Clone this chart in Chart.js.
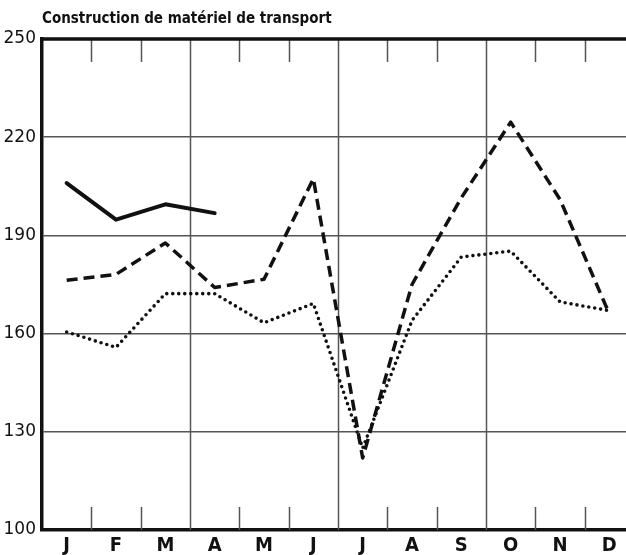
<!DOCTYPE html>
<html>
<head>
<meta charset="utf-8">
<script src="https://cdn.jsdelivr.net/npm/chart.js@4.4.1/dist/chart.umd.min.js"></script>
<style>
html,body{margin:0;padding:0;background:#fff;overflow:hidden;width:626px;height:555px;}
canvas{display:block;}
</style>
</head>
<body>
<canvas id="c" width="634" height="555"></canvas>
<script>
const titleText = "Construction de matériel de transport";
const months = ["J","F","M","A","M","J","J","A","S","O","N","D"];
const yTicks = [100,130,160,190,220,250];
const solidSeries  = [206.0, 194.8, 199.5, 196.8, null, null, null, null, null, null, null, null];
const dashedSeries = [176.3, 178.1, 187.7, 174.1, 176.6, 207.3, 122.0, 175.0, 201.5, 224.6, 201.0, 166.0];
const dottedSeries = [160.5, 155.8, 172.2, 172.2, 163.3, 169.2, 125.0, 164.0, 183.4, 185.2, 169.7, 167.0];
const fullGridAt = [3, 6, 9];

const ink = "#111";
const gridCol = "#555";

const frame = {
  id: "frame",
  beforeDatasetsDraw(chart) {
    const {ctx, chartArea: a, scales: {x}} = chart;
    ctx.save();
    ctx.strokeStyle = gridCol;
    ctx.lineWidth = 1.5;
    for (let i = 1; i < months.length; i++) {
      const px = Math.round((x.getPixelForValue(i - 1) + x.getPixelForValue(i)) / 2) + 0.5;
      ctx.beginPath();
      if (fullGridAt.includes(i)) {
        ctx.moveTo(px, a.top); ctx.lineTo(px, a.bottom);
      } else {
        ctx.moveTo(px, a.top); ctx.lineTo(px, a.top + 23);
        ctx.moveTo(px, a.bottom - 23); ctx.lineTo(px, a.bottom);
      }
      ctx.stroke();
    }
    ctx.strokeStyle = ink;
    ctx.lineWidth = 3.5;
    ctx.beginPath();
    ctx.moveTo(a.left - 2, a.top); ctx.lineTo(a.right, a.top);
    ctx.stroke();
    ctx.restore();
  }
};

new Chart(document.getElementById("c"), {
  type: "line",
  data: {
    labels: months,
    datasets: [
      {data: solidSeries, borderColor: ink, borderWidth: 4, pointRadius: 0, tension: 0, spanGaps: false, borderCapStyle: "round", borderJoinStyle: "round"},
      {data: dashedSeries, borderColor: ink, borderWidth: 3.5, borderDash: [11, 6], pointRadius: 0, tension: 0, borderJoinStyle: "round"},
      {data: dottedSeries, borderColor: ink, borderWidth: 3.6, borderDash: [0, 6], borderCapStyle: "round", pointRadius: 0, tension: 0}
    ]
  },
  options: {
    responsive: false,
    animation: false,
    devicePixelRatio: 1,
    layout: {padding: {top: 0, right: 0, left: 0, bottom: 0}},
    plugins: {
      legend: {display: false},
      tooltip: {enabled: false},
      title: {
        display: true, text: titleText, align: "start", fullSize: false,
        color: ink,
        font: {family: "'DejaVu Sans Condensed','Liberation Sans Narrow','DejaVu Sans',sans-serif", size: 15, weight: "bold"},
        padding: {top: 10, bottom: 11}
      }
    },
    scales: {
      x: {
        type: "category",
        offset: true,
        grid: {display: false, drawTicks: false},
        border: {display: true, color: ink, width: 3.5},
        ticks: {color: ink, padding: 4, maxRotation: 0, autoSkip: false,
          font: {family: "'DejaVu Sans Condensed','Liberation Sans Narrow','DejaVu Sans',sans-serif", size: 20, weight: "bold"}},
        afterFit(s) { s.height = 25; }
      },
      y: {
        min: 100, max: 250,
        afterBuildTicks(s) { s.ticks = yTicks.map(v => ({value: v})); },
        grid: {color: gridCol, lineWidth: 1.5, drawTicks: false},
        border: {display: true, color: ink, width: 3.5},
        ticks: {color: ink, padding: 6,
          font: {family: "'DejaVu Sans','Liberation Sans',sans-serif", size: 17}},
        afterFit(s) { s.width = 42; }
      }
    }
  },
  plugins: [frame]
});
</script>
</body>
</html>
